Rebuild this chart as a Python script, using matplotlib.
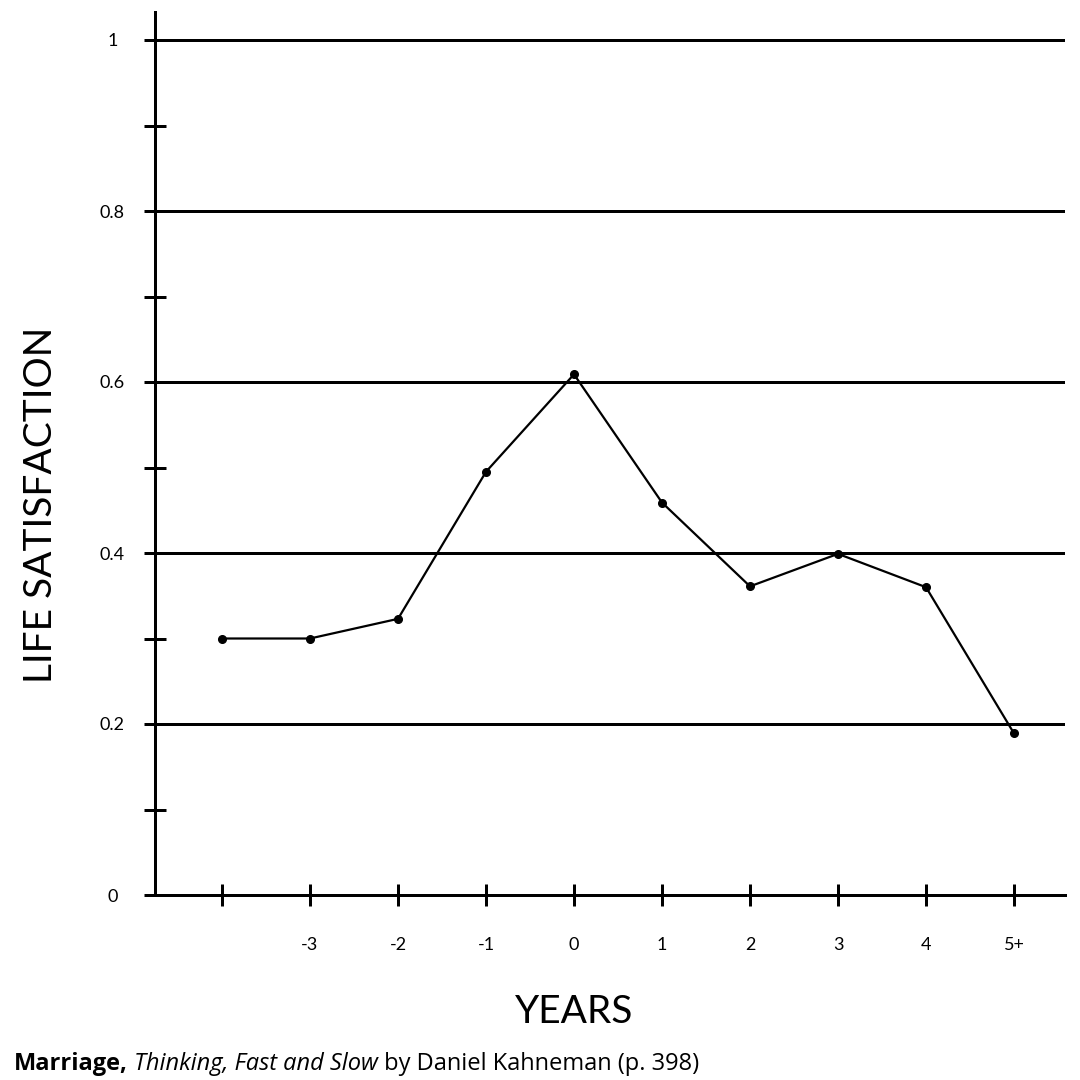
import matplotlib
matplotlib.use("Agg")
import matplotlib.pyplot as plt

# ---- data ----
x_labels = ['', '-3', '-2', '-1', '0', '1', '2', '3', '4', '5+']
satisfaction = [0.30, 0.30, 0.323, 0.495, 0.609, 0.459, 0.361, 0.399, 0.360, 0.189]
y_major = [0, 0.2, 0.4, 0.6, 0.8, 1.0]
y_major_labels = ['0', '0.2', '0.4', '0.6', '0.8', '1']
y_minor = [0.1, 0.3, 0.5, 0.7, 0.9]

plt.rcParams['font.family'] = ['Lato', 'DejaVu Sans']

PX = 0.72  # points per pixel at dpi 100
fig = plt.figure(figsize=(10.8, 10.8), dpi=100)
W = H = 1080.0
ax = fig.add_axes([155 / W, 185 / H, (1065 - 155) / W, (1068 - 185) / H])

xpos = list(range(len(x_labels)))
ax.plot(xpos, satisfaction, color='black', lw=1.6, marker='o', ms=5.5,
        markerfacecolor='black', markeredgecolor='black', zorder=5)

ax.set_xlim((155 - 222) / 88, (1065 - 222) / 88)
ax.set_ylim(0, (895 - 12) / 855)

# horizontal reference lines
for v in y_major[1:]:
    ax.axhline(v, color='black', lw=3 * PX, zorder=1)

for s in ['top', 'right']:
    ax.spines[s].set_visible(False)
for s in ['left', 'bottom']:
    ax.spines[s].set_linewidth(3 * PX)
    ax.spines[s].set_color('black')

ax.set_xticks(xpos)
ax.set_xticklabels(x_labels)
ax.tick_params(axis='x', direction='inout', length=22 * PX, width=3 * PX,
               pad=22, labelsize=13, colors='black')

ax.set_yticks(y_major)
ax.set_yticklabels(y_major_labels)
ax.set_yticks(y_minor, minor=True)
ax.tick_params(axis='y', which='both', direction='inout', length=23 * PX,
               width=3 * PX, labelsize=13, colors='black')
ax.tick_params(axis='y', which='major', pad=31 * PX)
for lab in ax.get_yticklabels():
    lab.set_horizontalalignment('center')

fig.text(41 / W, 1 - 505 / H, 'LIFE SATISFACTION', rotation=90,
         ha='center', va='center', fontsize=28, color='black')
fig.text(574 / W, 1 - 1012 / H, 'YEARS', ha='center', va='center',
         fontsize=28, color='black')

# footer caption with mixed styles
foot_font = ['Open Sans', 'DejaVu Sans']
t1 = fig.text(14 / W, 1 - 1070 / H, 'Marriage,', fontsize=17, family=foot_font,
              fontweight='bold', ha='left', va='baseline', color='black')
t2 = ax.annotate(' Thinking, Fast and Slow', xy=(1, 0), xycoords=t1,
                 fontsize=17, family=foot_font, fontstyle='italic',
                 ha='left', va='bottom', color='black', annotation_clip=False)
t3 = ax.annotate(' by Daniel Kahneman (p. 398)', xy=(1, 0), xycoords=t2,
                 fontsize=17, family=foot_font, ha='left', va='bottom',
                 color='black', annotation_clip=False)

fig.savefig('out.png', dpi=100, facecolor='white')
